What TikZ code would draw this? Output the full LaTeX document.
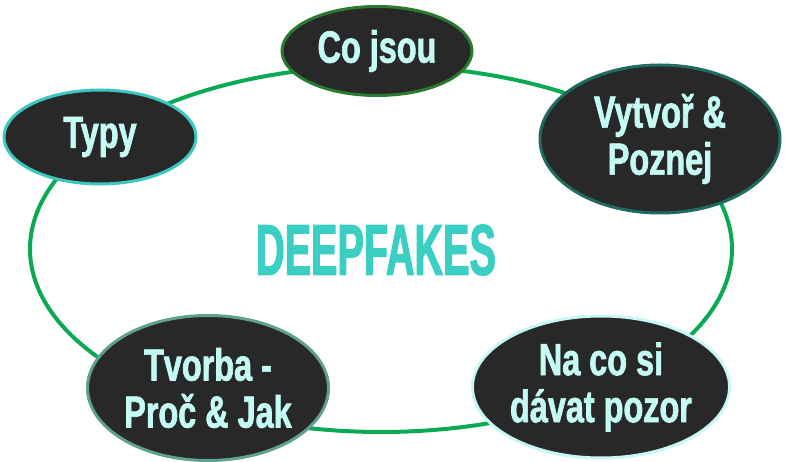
\documentclass[tikz,border=0pt]{standalone}
\usepackage{fontspec}
\setmainfont{Liberation Sans}
\newfontfamily\nodefont[FakeStretch=0.72,FakeBold=1.5]{Liberation Sans}
\newfontfamily\titlefont[FakeStretch=0.55,FakeBold=1.5]{Liberation Sans}
\usetikzlibrary{shapes.geometric}
\definecolor{ringgreen}{HTML}{0AAA55}
\definecolor{nodefill}{HTML}{282828}
\definecolor{nodetext}{HTML}{C4FBF5}
\definecolor{titlecol}{HTML}{3BCFC4}
\definecolor{bdA}{HTML}{2A7A2F}
\definecolor{bdB}{HTML}{3CC8C0}
\definecolor{bdC}{HTML}{1F6B60}
\definecolor{bdD}{HTML}{5FA090}
\definecolor{bdE}{HTML}{C8F8F5}
\tikzset{
  topic/.style={ellipse, fill=nodefill, line width=3pt, inner sep=0pt,
    text=nodetext, align=center,
    font=\nodefont\bfseries\fontsize{45}{47}\selectfont},
}
\begin{document}
\begin{tikzpicture}[x=1pt,y=-1pt]
\useasboundingbox (0,0) rectangle (785,462);
\draw[ringgreen, line width=4pt] (381,249) ellipse [x radius=351, y radius=183];
\node[titlecol, font=\titlefont\bfseries\fontsize{72}{76}\selectfont] (title) at (376,250) {DEEPFAKES};
\node[topic, draw=bdA, minimum width=190pt, minimum height=89pt] (cojsou) at (377,51) {Co jsou};
\node[topic, draw=bdB, minimum width=192pt, minimum height=94pt] (typy) at (100,137) {Typy};
\node[topic, draw=bdC, minimum width=240pt, minimum height=148pt] (vytvor) at (660,139) {Vytvoř \&\\Poznej};
\node[topic, draw=bdD, minimum width=241pt, minimum height=145pt] (tvorba) at (208,388) {Tvorba -\\Proč \& Jak};
\node[topic, draw=bdE, minimum width=243pt, minimum height=142pt] (naco) at (601,387) {Na co si\\dávat pozor};
\end{tikzpicture}
\end{document}
